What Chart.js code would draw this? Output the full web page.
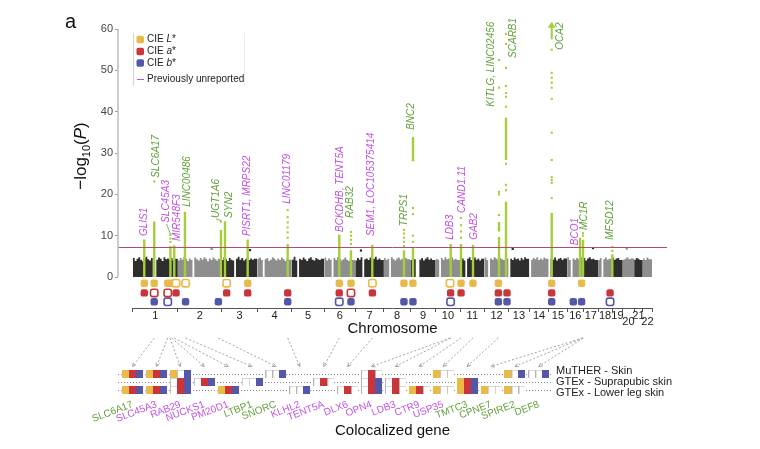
<!DOCTYPE html>
<html>
<head>
<meta charset="utf-8">
<script src="https://cdn.jsdelivr.net/npm/chart.js@4.4.1/dist/chart.umd.min.js"></script>
<style>
  html,body{margin:0;padding:0;background:#fff;}
  #wrap{position:relative;width:760px;height:449px;overflow:hidden;}
  #c1{position:absolute;left:0;top:0;}
  #c2{position:absolute;left:0;top:335px;}
</style>
</head>
<body>
<div id="wrap">
  <canvas id="c1" width="760" height="338"></canvas>
  <canvas id="c2" width="760" height="114"></canvas>
</div>
<script>
/* Manhattan plot of skin colour (CIE L*, a*, b*) + colocalized genes */

// ---- data ----
const chrNames=['1','2','3','4','5','6','7','8','9','10','11','12','13','14','15','16','17','18','19','20','21','22'];
const chrLen=[249.3,243.2,198.0,191.2,180.9,171.1,159.1,146.4,141.2,135.5,135.0,133.9,115.2,107.3,102.5,90.4,81.2,78.1,59.1,63.0,48.1,51.3];
// background -log10(P) ceiling per chromosome (binned)
const chrSkyline=[
  [4.1,4.6,3.9,4.4,4.8,4.2,3.8,4.5,4.9,4.3,4.0,4.6,0,0,4.2,4.7,4.4,3.9,4.8,4.3,4.5,4.1,4.6,4.0,4.4],
  [4.3,4.0,4.6,4.2,4.9,4.4,3.9,4.5,4.1,0,4.7,4.3,4.0,4.6,4.2,4.8,4.4,3.8,4.5,4.1,4.7,4.3,4.0,4.4],
  [4.5,4.1,4.8,4.3,3.9,4.6,4.2,4.0,0,4.4,4.9,4.2,4.6,4.0,4.3,4.7,4.1,4.5,4.2,4.4],
  [4.0,4.4,4.7,4.1,0,4.3,4.6,3.9,4.2,4.8,4.4,4.0,4.5,4.1,4.7,4.3,3.9,4.4,4.2],
  [4.6,4.2,4.9,4.0,0,4.4,4.1,4.7,4.3,3.9,4.5,4.8,4.2,4.0,4.6,4.3,4.1,4.4],
  [4.3,4.7,4.0,4.5,4.2,0,4.6,4.1,4.8,4.4,4.0,4.3,4.7,4.2,3.9,4.5,4.1],
  [4.4,4.0,4.6,4.2,4.8,0,4.3,4.5,4.1,4.7,4.0,4.4,4.9,4.2,4.5,4.1],
  [4.2,4.6,4.1,4.4,0,4.8,4.3,4.0,4.5,4.7,4.2,4.4,4.0,4.6,4.3],
  [4.5,4.1,4.7,4.3,0,0,4.2,4.6,4.0,4.4,4.8,4.2,4.5,4.1],
  [4.0,4.4,4.2,0,4.6,4.1,4.8,4.3,4.5,4.0,4.7,4.2,4.4,4.1],
  [4.6,4.2,4.5,4.0,0,4.4,4.8,4.1,4.3,4.7,4.2,4.5,4.0,4.4],
  [4.3,4.7,4.1,0,4.5,4.2,4.8,4.4,4.0,4.6,4.3,4.1,4.5],
  [0,0,4.4,4.1,4.7,4.3,4.5,4.0,4.6,4.2,4.8,4.4],
  [0,0,4.2,4.6,4.3,4.8,4.1,4.5,4.2,4.7,4.4],
  [0,0,4.5,4.2,4.7,4.0,4.4,4.6,4.1,4.5],
  [4.4,4.8,4.1,0,4.5,4.2,4.6,4.3,4.7],
  [4.2,4.6,4.0,4.5,4.8,4.3,4.4,4.1],
  [4.5,4.1,4.6,0,4.3,4.7,4.2,4.4],
  [4.3,4.7,4.2,4.5,4.6,4.1],
  [4.6,4.2,4.4,4.8,4.3,4.5],
  [0,4.2,4.6,4.4,4.1],
  [0,4.5,4.1,4.7,4.3]
];
// isolated sub-threshold points above the background [chr, Mb, -log10 P]
const strays=[[2,187.5,6.8],[3,157,6.5],[7,31.9,6.4],[13,22.9,6.8],[17,53.2,7.0],[20,21.9,6.9]];
const yTicks=[0,10,20,30,40,50,60];
const sigLine=7.3;

// significant loci
const lociGene=['GLIS1','SLC6A17','SLC45A3','MIR548F3','LINC00486','UGT1A6','SYN2','PISRT1, MRPS22','LINC01179',
  'BCKDHB, TENT5A','RAB32','SEM1, LOC105375414','TRPS1','BNC2','LDB3','CAND1.11','GAB2','KITLG, LINC02456',
  'SCARB1','OCA2','BCO1','MC1R','MFSD12'];
const lociChr=[1,1,1,1,2,2,3,3,4,6,6,7,8,9,10,11,11,12,12,15,16,16,19];
const lociMb=[62.7,118.2,208,229.3,39.3,239.2,18.2,144.2,168.2,82.6,147.5,94.6,111.5,15.1,83.1,4.8,71.4,80.7,119.6,16.9,71.5,88.2,1.0];
const lociNew=[1,0,1,1,0,0,0,1,1,1,0,1,0,0,1,1,1,0,0,0,1,0,0];
const lociSegs=[[[0,9.1]],[[0,13.4]],[[0,7.5]],[[0,7.7]],[[0,15.8]],[[0,11.4]],[[0,13.5]],[[0,9.1]],[[0,8]],
  [[0,10.2]],[[0,6.5]],[[0,7.8]],[[0,6.5]],[[0,7],[28,33.9]],[[0,8]],[[0,8]],[[0,7.8]],[[0,9.7],[11,13.3]],
  [[0,18.2],[28.3,38.5]],[[0,15.5]],[[0,9.5]],[[0,9]],[[0,5.5]]];
const lociDots=[[],[23.1],[8.5,9.3,10.2],[],[],[13.4],[],[],[9.5,10.8,12,13.2,14.5,16.2],[],[8,9,10,10.9],[],
  [7.5,8.5,9.5,10.5,11.4],[8.5,10,15.2,16.7],[],[9.5,11,12.5,14.3],[],[15,20,20.6,45.8,52.5],
  [21,22.3,27.4,41.2,43.6,44.5,46.2,50.6,56.4,58.8],[19.1,22.8,23.5,24.2,28.3,34.9,43.1,45.8,47,48.2,49.4,55],
  [],[10,10.6],[6.3,7.3]];
const lociLabelAt=[9.9,24,13.1,8.7,17,14.3,14.3,9.9,17.7,10.9,14.3,9.9,12.3,35.6,9,15.5,9,41.2,53,55,7.7,11.4,9];
const lociOffscale=[0,0,0,0,0,0,0,0,0,0,0,0,0,0,0,0,0,0,0,1,0,0,0];

// trait association markers [chr, Mb, filled]
const markL=[[1,63,1],[1,118,1],[1,193,1],[1,215,1],[1,239,0],[2,42.7,0],[3,27.5,0],[3,144.5,1],[6,82.4,1],[6,147.4,1],
  [7,95.3,0],[8,111.2,1],[9,14.8,1],[10,79.6,0],[11,5.1,1],[11,71.1,1],[12,77.1,1],[15,16.7,1],[16,80.2,1]];
const markA=[[1,63,1],[1,118,0],[1,193,0],[1,239,1],[3,27.5,1],[3,144.5,1],[4,168.5,1],[6,82.4,1],[6,147.4,0],
  [7,95.3,1],[10,82.6,1],[11,5.1,1],[12,77.1,1],[12,125.1,1],[15,16.7,1],[18,66.6,1]];
const markB=[[1,118,1],[1,193,0],[2,42.7,1],[2,224.7,1],[4,168.5,1],[6,82.4,0],[6,147.4,1],[8,111.2,1],[9,14.8,1],
  [10,82.6,0],[12,77.1,1],[12,125.1,1],[15,16.7,1],[16,34.2,1],[16,80.2,1],[18,66.6,0]];

// colocalization
const genes=['SLC6A17','SLC45A3','RAB29','NUCKS1','PM20D1','LTBP1','SNORC','KLHL2','TENT5A','DLX6','OPN4','LDB3',
  'CTR9','USP35','TMTC3','CPNE7','SPIRE2','DEF8'];
const genesNew=[0,1,1,1,1,0,0,1,1,1,1,1,1,1,0,0,0,0];
const geneLocusChr=[1,1,1,1,1,2,2,4,6,7,10,10,11,11,12,16,16,16];
const geneLocusMb=[118,193,205,215,229,42.7,224.7,168.5,82.4,95.3,79.6,83.1,5.1,71.1,77.1,86,88,90];
const tissues=['MuTHER - Skin','GTEx - Suprapubic skin','GTEx - Lower leg skin'];
// per gene: L a b cells  (Y/R/B = colocalized, o = tested, '' = none)
const colocMuther=['YRB','YRB','YoB','','','','ooB','','','','oRo','','','Yoo','','','YoB','ooB'];
const colocSupra =['','','oRB','oRB','','ooB','','','oRo','','oRB','oRo','','','YRB','','',''];
const colocLeg   =['YRB','YRB','oRB','','YRB','','','ooB','','oRo','oRB','oRo','YRo','Yoo','YRB','Yoo','Yoo',''];

// ---- styles ----
const FF="'Liberation Sans', Arial, Helvetica, sans-serif";
const C_L='#e9b94a', C_A='#c93538', C_B='#5457a8';
const C_HIT='#a6cd3a', C_NEW='#bf52e0', C_OLD='#62a03a';
const C_DARK='#2e2e2e', C_GRAY='#8e8e8e';
Chart.defaults.font.family=FF;
Chart.defaults.color='#333';
Chart.defaults.animation=false;

const gStart=[]; let acc=0;
chrLen.forEach(l=>{ gStart.push(acc); acc+=l; });
const gEnd=acc;
const gpos=(c,mb)=>gStart[c-1]+mb;
const pad=83;

// skyline datasets
const skyDs=chrSkyline.map((vals,i)=>{
  const w=chrLen[i]/vals.length;
  const pts=vals.map((v,k)=>({x:gStart[i]+k*w,y:v}));
  pts.push({x:gStart[i]+chrLen[i],y:vals[vals.length-1]});
  return {type:'line',data:pts,stepped:'after',fill:'origin',borderWidth:0,pointRadius:0,
    backgroundColor:i%2?C_GRAY:C_DARK,order:5};
});
const strayDs={type:'scatter',data:strays.map(s=>({x:gpos(s[0],s[1]),y:s[2]})),pointStyle:'rect',pointRadius:1.6,
  borderWidth:0,backgroundColor:strays.map(s=>(s[0]-1)%2?C_GRAY:C_DARK),order:4};
const segPts=[], dotPts=[];
lociGene.forEach((g,i)=>{
  const x=gpos(lociChr[i],lociMb[i]);
  lociSegs[i].forEach(s=>{ segPts.push({x,y:s[0]},{x,y:s[1]},{x,y:null}); });
  lociDots[i].forEach(v=>dotPts.push({x,y:v}));
});
const markRows=[[markL,C_L,-1.5],[markA,C_A,-3.85],[markB,C_B,-6.0]];
const markDs=markRows.map(([m,col,yy])=>({
  type:'scatter',data:m.map(p=>({x:gpos(p[0],p[1]),y:yy})),pointStyle:'rectRounded',pointRadius:4.3,
  backgroundColor:m.map(p=>p[2]?col:'#fff'),borderColor:col,borderWidth:m.map(p=>p[2]?0:1.6),order:1
}));

const labelDx=[0,1.5,-4,2.5,2,-5,4,0,0,1,-1,-1,0,-2,0,1,1,-8,7,8,-5,1,-2];
const leader=[0,0,1,0,0,1,0,0,0,0,0,0,0,0,0,0,0,0,0,0,0,0,0];

function roundRect(ctx,x,y,w,h,r){
  ctx.beginPath(); ctx.moveTo(x+r,y); ctx.arcTo(x+w,y,x+w,y+h,r); ctx.arcTo(x+w,y+h,x,y+h,r);
  ctx.arcTo(x,y+h,x,y,r); ctx.arcTo(x,y,x+w,y,r); ctx.closePath();
}

const decor1={
  id:'decor1',
  afterDatasetsDraw(chart){
    const {ctx,chartArea:ca,scales:{x,y}}=chart;
    ctx.save();
    // significance threshold
    ctx.strokeStyle='#b5487d'; ctx.lineWidth=1;
    const ys=Math.round(y.getPixelForValue(sigLine))+0.5;
    ctx.beginPath(); ctx.moveTo(ca.left,ys); ctx.lineTo(ca.right,ys); ctx.stroke();
    // y axis line 0..60
    ctx.strokeStyle='#bdbdbd'; ctx.lineWidth=1.5;
    ctx.beginPath(); ctx.moveTo(ca.left,y.getPixelForValue(0)); ctx.lineTo(ca.left,y.getPixelForValue(60)); ctx.stroke();
    // chromosome baseline
    ctx.strokeStyle='#555'; ctx.lineWidth=1;
    ctx.beginPath(); ctx.moveTo(x.getPixelForValue(0),ca.bottom+0.5); ctx.lineTo(x.getPixelForValue(gEnd),ca.bottom+0.5); ctx.stroke();
    // locus labels
    ctx.font='italic 10px '+FF; ctx.textBaseline='middle'; ctx.textAlign='left';
    lociGene.forEach((g,i)=>{
      const cx=x.getPixelForValue(gpos(lociChr[i],lociMb[i]));
      const lx=cx+labelDx[i], ly=y.getPixelForValue(lociLabelAt[i]);
      const col=lociNew[i]?C_NEW:C_OLD;
      if(leader[i]){
        const top=Math.max(...lociSegs[i].map(s=>s[1]),...lociDots[i],0);
        ctx.strokeStyle=C_OLD; ctx.lineWidth=0.8;
        ctx.beginPath(); ctx.moveTo(cx,y.getPixelForValue(top)-1); ctx.lineTo(lx,ly+1); ctx.stroke();
      }
      ctx.fillStyle=col;
      ctx.save(); ctx.translate(lx,ly); ctx.rotate(-Math.PI/2); ctx.fillText(g,0,0); ctx.restore();
      if(lociOffscale[i]){
        const top=y.getPixelForValue(61.5), bot=y.getPixelForValue(57.5);
        ctx.strokeStyle=C_HIT; ctx.fillStyle=C_HIT; ctx.lineWidth=2;
        ctx.beginPath(); ctx.moveTo(cx,bot); ctx.lineTo(cx,top+4); ctx.stroke();
        ctx.beginPath(); ctx.moveTo(cx-4,top+5); ctx.lineTo(cx+4,top+5); ctx.lineTo(cx,top-1); ctx.closePath(); ctx.fill();
      }
    });
    ctx.restore();
  },
  afterDraw(chart){
    const {ctx,chartArea:ca}=chart;
    ctx.save();
    ctx.fillStyle='#111'; ctx.font='20px '+FF; ctx.textBaseline='alphabetic'; ctx.textAlign='left';
    ctx.fillText('a',65,28);
    ctx.font='15px '+FF; ctx.textAlign='center';
    ctx.fillText('Chromosome',(ca.left+ca.right)/2,333);
    ctx.textAlign='left';
    // y title  −log10(P)
    const parts=[['\u2212log','17px',0],['10','11px',4],['(','17px',0],['P','italic 17px',0],[')','17px',0]];
    ctx.translate(86,156); ctx.rotate(-Math.PI/2);
    let w=0; parts.forEach(p=>{ ctx.font=p[1]+' '+FF; w+=ctx.measureText(p[0]).width; });
    let tx=-w/2;
    parts.forEach(p=>{ ctx.font=p[1]+' '+FF; ctx.fillText(p[0],tx,p[2]); tx+=ctx.measureText(p[0]).width; });
    ctx.setTransform(1,0,0,1,0,0);
    // legend
    ctx.strokeStyle='#d4d4d4'; ctx.lineWidth=1;
    ctx.beginPath(); ctx.moveTo(133.5,33); ctx.lineTo(133.5,86); ctx.stroke();
    ctx.strokeStyle='#ececec';
    ctx.beginPath(); ctx.moveTo(244.5,33); ctx.lineTo(244.5,86); ctx.stroke();
    const items=[['L',C_L,39.5],['a',C_A,51.5],['b',C_B,63]];
    ctx.font='10px '+FF; ctx.textBaseline='middle';
    items.forEach(([v,col,yy])=>{
      ctx.fillStyle=col; roundRect(ctx,136.5,yy-3.8,7.5,7.5,1.8); ctx.fill();
      ctx.fillStyle='#222'; ctx.font='10px '+FF; ctx.fillText('CIE ',147,yy);
      let xx=147+ctx.measureText('CIE ').width;
      ctx.font='italic 10px '+FF; ctx.fillText(v,xx,yy); xx+=ctx.measureText(v).width;
      ctx.font='10px '+FF; ctx.fillText('*',xx,yy);
    });
    ctx.strokeStyle=C_NEW; ctx.lineWidth=1;
    ctx.beginPath(); ctx.moveTo(137,79.5); ctx.lineTo(144,79.5); ctx.stroke();
    ctx.fillStyle='#222'; ctx.font='10px '+FF; ctx.fillText('Previously unreported',147,79);
    ctx.restore();
  }
};

const chart1=new Chart(document.getElementById('c1'),{
  data:{datasets:[
    ...markDs,
    {type:'scatter',data:dotPts,pointStyle:'rect',pointRadius:1.5,backgroundColor:C_HIT,borderWidth:0,order:2},
    {type:'line',data:segPts,borderColor:C_HIT,borderWidth:2.4,pointRadius:0,spanGaps:false,fill:false,order:3},
    strayDs,
    ...skyDs
  ]},
  options:{
    responsive:false,animation:false,
    layout:{padding:{left:0,top:29,right:760-667,bottom:0}},
    plugins:{legend:{display:false},tooltip:{enabled:false}},
    scales:{
      x:{type:'linear',position:'bottom',weight:0,min:-pad,max:gEnd+pad,
        afterBuildTicks:s=>{ s.ticks=[...gStart,gEnd].map(v=>({value:v})); },
        ticks:{display:false},grid:{drawOnChartArea:false,tickLength:4,color:'#555'},border:{display:false},
        afterFit:s=>{ s.height=0; }},
      xc:{type:'linear',position:'bottom',weight:1,min:-pad,max:gEnd+pad,
        afterBuildTicks:s=>{ s.ticks=chrLen.map((l,i)=>({value:gStart[i]+l/2})); },
        ticks:{autoSkip:false,maxRotation:0,minRotation:0,padding:5,color:'#222',font:{size:11,lineHeight:0.55},
          callback:(v,i)=>(i>=19&&i%2===1)?['',chrNames[i]]:chrNames[i]},
        grid:{display:false,drawTicks:false},border:{display:false},
        afterFit:s=>{ s.height=30; }},
      y:{type:'linear',min:-7.5,max:60,
        afterBuildTicks:s=>{ s.ticks=yTicks.map(v=>({value:v})); },
        ticks:{font:{size:11},color:'#444',padding:2},
        grid:{drawOnChartArea:false,tickLength:3,color:'#999'},border:{display:false},
        afterFit:s=>{ s.width=118; }}
    }
  },
  plugins:[decor1]
});

// ---- colocalization panel ----
function cellImg(col,empty){
  const c=document.createElement('canvas'); c.width=7; c.height=8;
  const g=c.getContext('2d'); g.fillStyle=empty?'#fff':col; g.fillRect(0,0,7,8);
  if(empty){ g.fillStyle='#b4b4b4'; g.fillRect(0,0,7,1); g.fillRect(0,0,1,8); }
  return c;
}
const imgs={Y:cellImg(C_L),R:cellImg(C_A),B:cellImg(C_B),o:cellImg(null,true)};
const cellW=7/23.9;
const cellPts=[];
[colocMuther,colocSupra,colocLeg].forEach((row,r)=>{
  row.forEach((code,i)=>{
    code.split('').forEach((k,j)=>cellPts.push({x:i+(j-1)*cellW,y:r,k}));
  });
});

const decor2={
  id:'decor2',
  beforeDatasetsDraw(chart){
    const {ctx,chartArea:ca,scales:{y}}=chart;
    ctx.save(); ctx.strokeStyle='#8a8a8a'; ctx.lineWidth=1; ctx.setLineDash([1,2]);
    tissues.forEach((t,r)=>{
      const yy=Math.round(y.getPixelForValue(r))+0.5;
      ctx.beginPath(); ctx.moveTo(ca.left,yy); ctx.lineTo(ca.right,yy); ctx.stroke();
    });
    ctx.restore();
  },
  afterDraw(chart){
    const {ctx,chartArea:ca,scales:{x}}=chart;
    ctx.save(); ctx.strokeStyle='#9a9a9a'; ctx.lineWidth=0.9;
    genes.forEach((g,i)=>{
      const x0=chart1.scales.x.getPixelForValue(gpos(geneLocusChr[i],geneLocusMb[i])), y0=3;
      const x1=x.getPixelForValue(i), y1=ca.top-3;
      ctx.setLineDash([2,2]);
      ctx.beginPath(); ctx.moveTo(x0,y0); ctx.lineTo(x1,y1); ctx.stroke();
      ctx.setLineDash([]);
      const a=Math.atan2(y1-y0,x1-x0);
      ctx.beginPath();
      ctx.moveTo(x1-4*Math.cos(a-0.45),y1-4*Math.sin(a-0.45)); ctx.lineTo(x1,y1);
      ctx.lineTo(x1-4*Math.cos(a+0.45),y1-4*Math.sin(a+0.45)); ctx.stroke();
    });
    const c1a=chart1.chartArea;
    ctx.fillStyle='#111'; ctx.font='15px '+FF; ctx.textAlign='center'; ctx.textBaseline='alphabetic';
    ctx.fillText('Colocalized gene',(c1a.left+c1a.right)/2,100);
    ctx.restore();
  }
};

new Chart(document.getElementById('c2'),{
  type:'scatter',
  data:{datasets:[{data:cellPts,pointStyle:c=>imgs[c.raw.k],pointRadius:4,clip:false}]},
  options:{
    responsive:false,animation:false,
    layout:{padding:{left:118,top:34.5,right:0,bottom:0}},
    plugins:{legend:{display:false},tooltip:{enabled:false}},
    scales:{
      x:{type:'linear',min:-0.607,max:17.594,
        afterBuildTicks:s=>{ s.ticks=genes.map((g,i)=>({value:i})); },
        ticks:{autoSkip:false,minRotation:21,maxRotation:21,padding:5,font:{size:10},
          color:c=>genesNew[c.index]?C_NEW:C_OLD,callback:(v,i)=>genes[i]},
        grid:{display:false,drawTicks:false},border:{display:false},
        afterFit:s=>{ s.height=55.5; }},
      y:{type:'linear',position:'right',reverse:true,min:-0.5,max:2.5,
        afterBuildTicks:s=>{ s.ticks=tissues.map((t,i)=>({value:i})); },
        ticks:{autoSkip:false,padding:3,color:'#222',font:{size:11,lineHeight:0.55},
          callback:(v,i)=>i===0?[tissues[i],'']:i===2?['',tissues[i]]:tissues[i]},
        grid:{display:false,drawTicks:false},border:{display:false},
        afterFit:s=>{ s.width=760-553; }}
    }
  },
  plugins:[decor2]
});
</script>
</body>
</html>
